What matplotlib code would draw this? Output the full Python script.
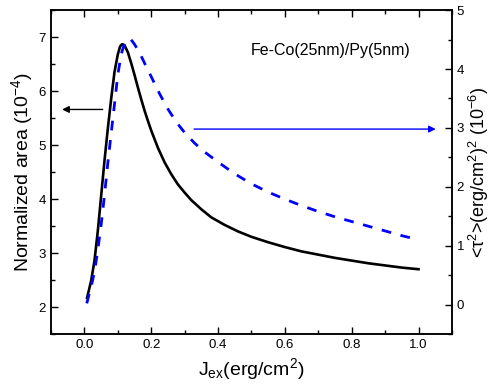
import matplotlib
matplotlib.use('Agg')
import numpy as np
import matplotlib.pyplot as plt

plt.rcParams['font.family'] = ['Liberation Sans', 'DejaVu Sans']
plt.rcParams['mathtext.fontset'] = 'custom'
plt.rcParams['mathtext.rm'] = 'Liberation Sans'
plt.rcParams['mathtext.it'] = 'Liberation Sans:italic'

# black curve: normalized area (left axis, 10^-4)
area_x = [0.008, 0.02, 0.03, 0.04, 0.05, 0.06, 0.07, 0.08, 0.09, 0.10, 0.107, 0.113,
          0.12, 0.13, 0.14, 0.15, 0.16, 0.17, 0.18, 0.19, 0.20, 0.22, 0.24, 0.26,
          0.28, 0.30, 0.32, 0.35, 0.38, 0.42, 0.46, 0.50, 0.55, 0.60, 0.65, 0.70,
          0.75, 0.80, 0.85, 0.90, 0.95, 1.00]
area_y = [2.17, 2.48, 2.85, 3.40, 4.05, 4.70, 5.30, 5.85, 6.35, 6.68, 6.83, 6.87,
          6.85, 6.72, 6.52, 6.30, 6.07, 5.85, 5.64, 5.45, 5.27, 4.95, 4.68, 4.46,
          4.27, 4.12, 3.98, 3.81, 3.66, 3.52, 3.40, 3.30, 3.20, 3.11, 3.03, 2.97,
          2.91, 2.86, 2.81, 2.77, 2.73, 2.70]

# blue dashed curve: <tau^2> (right axis, 10^-6)
tau_x = [0.007, 0.02, 0.03, 0.04, 0.05, 0.06, 0.07, 0.08, 0.09, 0.10, 0.11, 0.12,
         0.137, 0.15, 0.165, 0.18, 0.20, 0.225, 0.25, 0.275, 0.30, 0.33, 0.36, 0.40,
         0.45, 0.50, 0.55, 0.60, 0.65, 0.70, 0.75, 0.80, 0.85, 0.90, 0.95, 1.00]
tau_y = [0.02, 0.30, 0.55, 0.92, 1.35, 1.85, 2.40, 2.90, 3.40, 3.90, 4.25, 4.43,
         4.52, 4.42, 4.28, 4.10, 3.87, 3.58, 3.32, 3.10, 2.92, 2.74, 2.59, 2.42,
         2.22, 2.05, 1.91, 1.79, 1.68, 1.58, 1.49, 1.41, 1.33, 1.25, 1.17, 1.10]

x_ticks = [0.0, 0.2, 0.4, 0.6, 0.8, 1.0]
left_ticks = [2, 3, 4, 5, 6, 7]
right_ticks = [0, 1, 2, 3, 4, 5]

fig = plt.figure(figsize=(4.95, 3.9), dpi=100)
ax = fig.add_axes([0.103, 0.1436, 0.810, 0.8304])
ax2 = ax.twinx()

ax.plot(area_x, area_y, color='black', lw=1.9, zorder=3)
ax2.plot(tau_x, tau_y, color='#0000ff', lw=2.0, dashes=(3.5, 3.5))

ax.set_xlim(-0.1, 1.1)
ax.set_ylim(1.5, 7.5)
ax2.set_ylim(-0.5, 5)

ax.set_xticks(x_ticks)
ax.set_xticks(np.arange(-0.1, 1.11, 0.1), minor=True)
ax.set_yticks(left_ticks)
ax.set_yticks(np.arange(1.5, 7.6, 0.5), minor=True)
ax2.set_yticks(right_ticks)
ax2.set_yticks(np.arange(-0.5, 5.1, 0.5), minor=True)

ax.tick_params(which='both', direction='in', top=True, right=False, labelsize=9.5, width=1.0)
ax.tick_params(which='major', length=5)
ax.tick_params(which='minor', length=3)
ax2.tick_params(which='both', direction='in', labelsize=9.5, width=1.0)
ax2.tick_params(which='major', length=5)
ax2.tick_params(which='minor', length=3)
for a in (ax, ax2):
    for s in a.spines.values():
        s.set_linewidth(1.1)

ax.set_xlabel(r'J$_{\rm ex}$(erg/cm$^2$)', fontsize=14, labelpad=4)
ax.set_ylabel(r'Normalized area (10$^{-4}$)', fontsize=14, labelpad=3)
ax2.set_ylabel(r'<τ$^2$>(erg/cm$^2$)$^2$ (10$^{-6}$)', fontsize=13, labelpad=2)

ax.text(0.497, 6.76, 'Fe-Co(25nm)/Py(5nm)', fontsize=11.5, va='center', ha='left')

ax.annotate('', xy=(-0.075, 5.66), xytext=(0.063, 5.66),
            arrowprops=dict(arrowstyle='-|>', color='black', lw=1.0, mutation_scale=10))
ax2.annotate('', xy=(1.06, 2.98), xytext=(0.32, 2.98),
             arrowprops=dict(arrowstyle='-|>', color='#0000ff', lw=1.0, mutation_scale=10))

fig.savefig('out.png', dpi=100)
